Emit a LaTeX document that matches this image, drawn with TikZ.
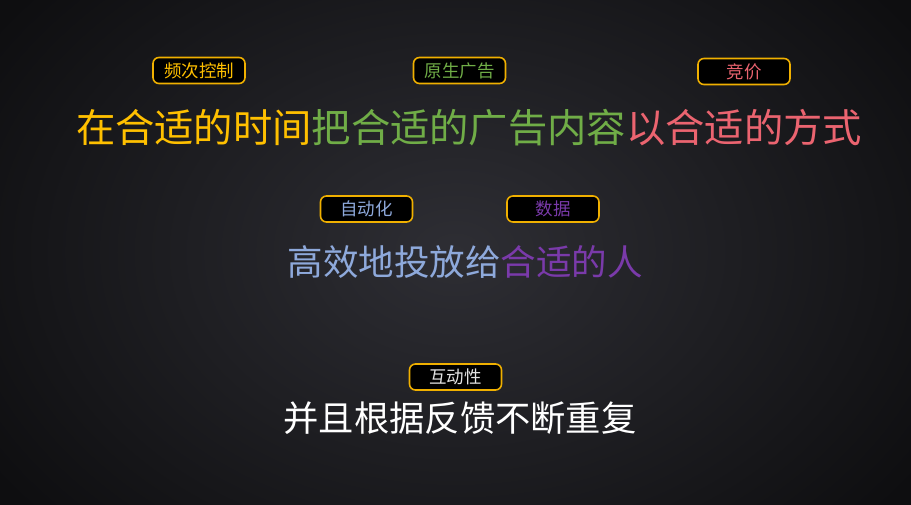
\documentclass[tikz,border=0pt]{standalone}
\usepackage{fontspec}
\setmainfont{Noto Sans CJK SC}
\definecolor{cyel}{HTML}{FFC000}
\definecolor{cgrn}{HTML}{70AD47}
\definecolor{cred}{HTML}{EB6470}
\definecolor{cblu}{HTML}{8EA9DB}
\definecolor{cpur}{HTML}{7A3AAA}
\definecolor{cbord}{HTML}{F0B000}
\begin{document}
\begin{tikzpicture}[x=1pt,y=-1pt,
  tagbox/.style={draw=cbord, line width=1.6pt, fill=black, rounded corners=6pt,
    minimum width=92pt, minimum height=26pt, inner sep=0pt,
    font=\fontsize{17.5}{18}\selectfont},
  bigline/.style={inner sep=0pt, anchor=center}]
\useasboundingbox (0,0) rectangle (911,504);
\begin{scope}
\clip (0,0) rectangle (911,504);
\shade[inner color={rgb,255:red,46;green,46;blue,52}, outer color={rgb,255:red,14;green,14;blue,16}]
  (-100,-150) rectangle (1011,654);
\end{scope}
% tags
\node[tagbox, text=cyel] (t1) at (199,70.5) {频次控制};
\node[tagbox, text=cgrn] (t2) at (459.5,70.5) {原生广告};
\node[tagbox, text=cred] (t3) at (744,71.5) {竞价};
\node[tagbox, text=cblu] (t4) at (366.5,209) {自动化};
\node[tagbox, text=cpur] (t5) at (553,209) {数据};
\node[tagbox, text=white!90!black] (t6) at (455.5,377) {互动性};
% main lines
\node[bigline, font=\fontsize{39.3}{40}\selectfont] (l1) at (469,128)
  {\textcolor{cyel}{在合适的时间}\textcolor{cgrn}{把合适的广告内容}\textcolor{cred}{以合适的方式}};
\node[bigline, font=\fontsize{35.5}{36}\selectfont] (l2) at (465,262)
  {\textcolor{cblu}{高效地投放给}\textcolor{cpur}{合适的人}};
\node[bigline, font=\fontsize{35.3}{36}\selectfont, text=white] (l3) at (460,418)
  {并且根据反馈不断重复};
\end{tikzpicture}
\end{document}
